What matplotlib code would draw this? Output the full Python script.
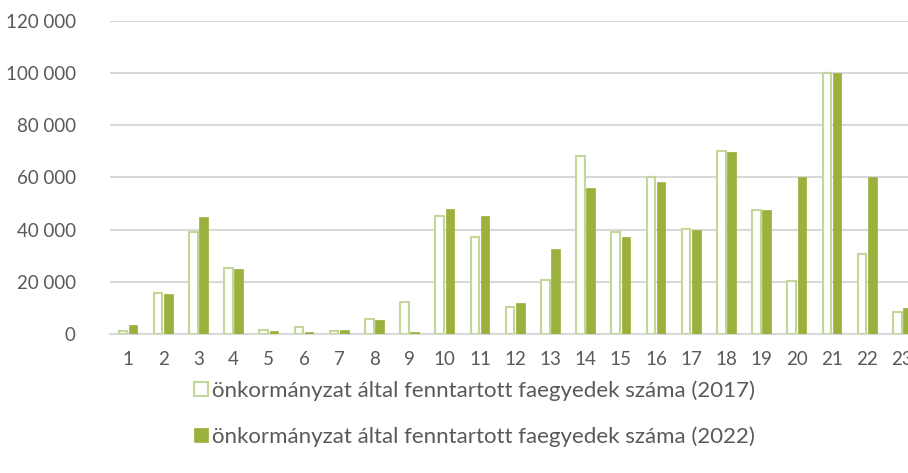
import matplotlib.pyplot as plt
import numpy as np

categories = [str(i) for i in range(1, 24)]
v2017 = [1300, 15600, 39000, 25300, 1400, 2800, 1000, 5600, 12100, 45200,
         37100, 10200, 20800, 68200, 39200, 60100, 40100, 70200, 47700, 20200,
         100200, 30800, 8600]
v2022 = [3300, 15300, 45000, 25000, 1150, 600, 1400, 5500, 800, 48000,
         45100, 12000, 32600, 56000, 37100, 58200, 39900, 69900, 47400, 60100,
         100000, 60000, 10100]
labels = ['önkormányzat által fenntartott faegyedek száma (2017)',
          'önkormányzat által fenntartott faegyedek száma (2022)']
yticks = [0, 20000, 40000, 60000, 80000, 100000, 120000]

plt.rcParams['font.family'] = ['Lato', 'DejaVu Sans']
txt = '#595959'
light = '#C4D79B'
dark = '#9BB13D'

fig = plt.figure(figsize=(9.08, 4.73), dpi=100)
ax = fig.add_axes([0.1216, 0.2939, 0.8916, 0.6617])

x = np.arange(len(categories))
w = 0.24
b1 = ax.bar(x - 0.145, v2017, w, facecolor='white', edgecolor=light, linewidth=1.5,
            label=labels[0], zorder=3)
b2 = ax.bar(x + 0.145, v2022, w, facecolor=dark, edgecolor=dark, linewidth=0.5,
            label=labels[1], zorder=3)

ax.set_xlim(-0.5, len(categories) - 0.5)
ax.set_ylim(0, 120000)
ax.set_yticks(yticks)
ax.set_yticklabels([f'{v:,}'.replace(',', ' ') for v in yticks])
ax.set_xticks(x)
ax.set_xticklabels(categories)
ax.tick_params(length=0, labelsize=13.5, colors=txt, pad=12)
ax.tick_params(axis='y', pad=25)
ax.grid(axis='y', color='#D9D9D9', linewidth=1.5, zorder=0)
for s in ['top', 'right', 'left']:
    ax.spines[s].set_visible(False)
ax.spines['bottom'].set_color('#D9D9D9')
ax.spines['bottom'].set_linewidth(1.5)

leg = fig.legend(handles=[b1, b2], loc='upper center', bbox_to_anchor=(0.523, 0.2385),
                 frameon=False, fontsize=16, handlelength=0.6, handleheight=0.6,
                 handletextpad=0.2, labelspacing=1.15, labelcolor=txt)

fig.savefig('out.png', dpi=100)
